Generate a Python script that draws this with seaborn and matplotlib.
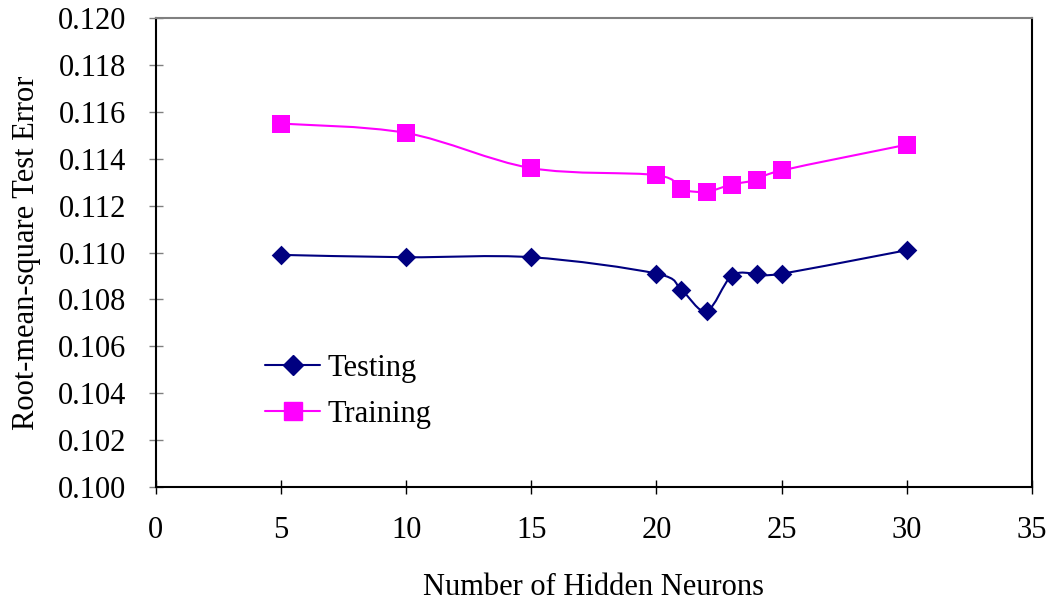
import numpy as np
import pandas as pd
import seaborn as sns
import matplotlib
matplotlib.use("Agg")
import matplotlib.pyplot as plt
from matplotlib.path import Path
from matplotlib.patches import PathPatch
from matplotlib.lines import Line2D

# Hidden-layer sizes and RMS errors
hidden_neurons = [5, 10, 15, 20, 21, 22, 23, 24, 25, 30]
testing_rmse = [0.1099, 0.1098, 0.1098, 0.1091, 0.1084, 0.1075, 0.1090, 0.1091, 0.1091, 0.1101]
training_rmse = [0.1155, 0.1151, 0.1136, 0.1133, 0.1127, 0.1126, 0.1129, 0.1131, 0.1135, 0.1146]

x_ticks = [0, 5, 10, 15, 20, 25, 30, 35]
y_ticks = [0.100, 0.102, 0.104, 0.106, 0.108, 0.110, 0.112, 0.114, 0.116, 0.118, 0.120]

df = pd.DataFrame({
    "neurons": hidden_neurons * 2,
    "rmse": testing_rmse + training_rmse,
    "set": ["Testing"] * len(hidden_neurons) + ["Training"] * len(hidden_neurons),
})

sns.set_theme(style="white")
plt.rcParams["font.family"] = "serif"
plt.rcParams["font.serif"] = ["Liberation Serif", "DejaVu Serif"]
plt.rcParams["text.color"] = "black"
plt.rcParams["axes.labelcolor"] = "black"

FS = 22

fig = plt.figure(figsize=(10.52, 6.02), dpi=100)
ax = fig.add_axes([0.148, 0.191, 0.833, 0.779])

styles = {
    "Testing": dict(color="#000080", marker="D", ms=10),
    "Training": dict(color="#FF00FF", marker="s", ms=13),
}


def smooth_path(xs, ys):
    """Catmull-Rom style Bezier path through the points (spreadsheet-like smoothing)."""
    pts = np.column_stack([xs, ys]).astype(float)
    n = len(pts)
    verts = [pts[0]]
    codes = [Path.MOVETO]
    for i in range(n - 1):
        p0 = pts[i - 1] if i > 0 else pts[i]
        p1 = pts[i]
        p2 = pts[i + 1]
        p3 = pts[i + 2] if i + 2 < n else pts[i + 1]
        c1 = p1 + (p2 - p0) / 6.0
        c2 = p2 - (p3 - p1) / 6.0
        verts += [c1, c2, p2]
        codes += [Path.CURVE4] * 3
    return Path(verts, codes)


for name, sub in df.groupby("set"):
    st = styles[name]
    ax.add_patch(PathPatch(smooth_path(sub["neurons"], sub["rmse"]),
                           facecolor="none", edgecolor=st["color"], lw=1.5,
                           transform=ax.transData, zorder=2))
    sns.scatterplot(data=sub, x="neurons", y="rmse", ax=ax, color=st["color"],
                    marker=st["marker"], s=(st["ms"] ** 2), edgecolor=st["color"],
                    linewidth=0, zorder=3, legend=False)

ax.set_xlim(0, 35)
ax.set_ylim(0.100, 0.120)
ax.set_xticks(x_ticks)
ax.set_yticks(y_ticks)
ax.set_xticklabels([str(t) for t in x_ticks])
ax.set_yticklabels([f"{t:.3f}" for t in y_ticks])

ax.tick_params(axis="both", labelsize=FS, direction="inout", length=10, width=1,
               bottom=True, left=True)
ax.tick_params(axis="y", colors="#808080", labelcolor="black", pad=16)
ax.tick_params(axis="x", colors="black", labelcolor="black", pad=16)

for side in ["left", "bottom", "right"]:
    ax.spines[side].set_color("black")
    ax.spines[side].set_linewidth(1.5)
ax.spines["top"].set_color("#808080")
ax.spines["top"].set_linewidth(1.5)

ax.set_xlabel("Number of Hidden Neurons", fontsize=FS, labelpad=20)
ax.set_ylabel("Root-mean-square Test Error", fontsize=FS, labelpad=12)

handles = [Line2D([], [], color=styles[k]["color"], marker=styles[k]["marker"],
                  ms=styles[k]["ms"], lw=1.5, label=k)
           for k in ["Testing", "Training"]]
ax.legend(handles=handles, loc="upper left", bbox_to_anchor=(0.111, 0.31),
          frameon=False, fontsize=FS, handlelength=1.8, handletextpad=0.25,
          labelspacing=0.55, borderaxespad=0)

fig.savefig("out.png", dpi=100, facecolor="white")
